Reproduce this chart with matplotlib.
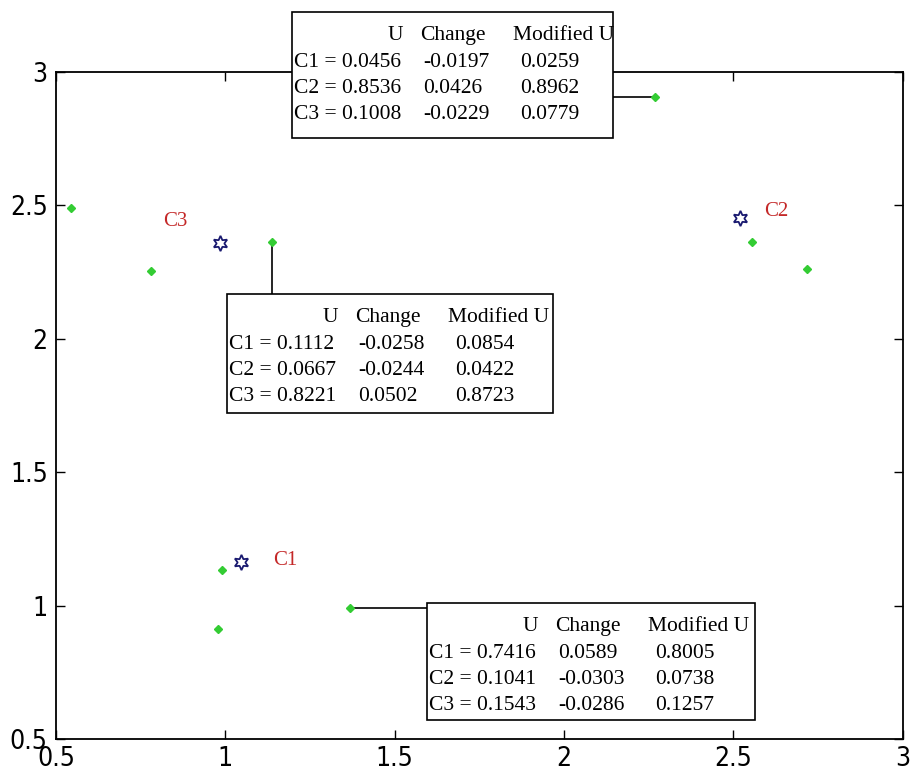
import matplotlib.pyplot as plt
from matplotlib.patches import Rectangle
from matplotlib.transforms import offset_copy

# cluster centres
center_names = ['C1', 'C2', 'C3']
centers_x = [1.046, 2.519, 0.984]
centers_y = [1.163, 2.453, 2.359]

# data points
points_x = [0.545, 0.780, 1.138, 0.990, 0.978, 1.368, 2.270, 2.554, 2.717]
points_y = [2.490, 2.254, 2.363, 1.133, 0.912, 0.991, 2.906, 2.363, 2.262]

# memberships of three of the points: old value, change, new value
u_points = [6, 2, 5]
u_old = [[0.0456, 0.8536, 0.1008],
         [0.1112, 0.0667, 0.8221],
         [0.7416, 0.1041, 0.1543]]
u_change = [[-0.0197, 0.0426, -0.0229],
            [-0.0258, -0.0244, 0.0502],
            [0.0589, -0.0303, -0.0286]]
u_new = [[0.0259, 0.8962, 0.0779],
         [0.0854, 0.0422, 0.8723],
         [0.8005, 0.0738, 0.1257]]

# where the centre names sit relative to their centre
name_dx = [0.130, 0.109, -0.133]
name_dy = [0.007, 0.025, 0.081]

# box corners (x0, x1, y0, y1) in data units and the side the leader line leaves from
boxes = [(1.197, 2.144, 2.753, 3.225),
         (1.005, 1.967, 1.722, 2.168),
         (1.595, 2.563, 0.571, 1.010)]
box_sides = ['right', 'top', 'left']

table_font = ['Liberation Serif', 'DejaVu Serif']

fig = plt.figure(figsize=(9.1, 7.74), dpi=100)
ax = fig.add_axes([0.0615, 0.0452, 0.9305, 0.8618])

ax.plot(points_x, points_y, linestyle='none', marker='D', markersize=4.5,
        color='#33cc33', zorder=3)
ax.plot(centers_x, centers_y, linestyle='none', marker=(6, 1, 0), markersize=11,
        markerfacecolor='none', markeredgecolor='#1a1a70', markeredgewidth=1.3, zorder=3)

for name, cx, cy, dx, dy in zip(center_names, centers_x, centers_y, name_dx, name_dy):
    ax.text(cx + dx, cy + dy, name, color='#c42828', fontsize=15,
            family=table_font, ha='center', va='center')

for k, (x0, x1, y0, y1) in enumerate(boxes):
    px = points_x[u_points[k]]
    py = points_y[u_points[k]]
    side = box_sides[k]
    if side == 'right':
        ax.plot([x1, px], [py, py], color='black', lw=1.2, clip_on=False, zorder=2)
    elif side == 'left':
        ax.plot([px, x0], [py, py], color='black', lw=1.2, clip_on=False, zorder=2)
    else:
        ax.plot([px, px], [py, y1], color='black', lw=1.2, clip_on=False, zorder=2)

    ax.add_patch(Rectangle((x0, y0), x1 - x0, y1 - y0, facecolor='white',
                           edgecolor='black', lw=1.2, clip_on=False, zorder=4))

    def cell(dx, dy, s, ha='left'):
        tr = offset_copy(ax.transData, fig=fig, x=dx, y=-dy, units='dots')
        ax.text(x0, y1, s, transform=tr, ha=ha, va='center', fontsize=15.5,
                family=table_font, clip_on=False, zorder=5)

    cell(111, 24, 'U', ha='right')
    cell(128, 24, 'Change')
    cell(221, 24, 'Modified U')
    for j in range(3):
        dy = 51 + 26 * j
        cell(2, dy, f'{center_names[j]} = {u_old[k][j]:.4f}')
        cell(131, dy, f'{u_change[k][j]:.4f}')
        cell(228, dy, f'{u_new[k][j]:.4f}')

ax.set_xlim(0.5, 3)
ax.set_ylim(0.5, 3)
ax.set_xticks([0.5, 1, 1.5, 2, 2.5, 3])
ax.set_xticklabels(['0.5', '1', '1.5', '2', '2.5', '3'])
ax.set_yticks([0.5, 1, 1.5, 2, 2.5, 3])
ax.set_yticklabels(['0.5', '1', '1.5', '2', '2.5', '3'])
ax.tick_params(direction='in', top=True, right=True, length=6.5, width=1,
               labelsize=19)
ax.tick_params(axis='x', pad=5)
ax.tick_params(axis='y', pad=6)
for lab in ax.get_xticklabels() + ax.get_yticklabels():
    lab.set_family('DejaVu Sans')
    lab.set_stretch('condensed')
for sp in ax.spines.values():
    sp.set_linewidth(1.3)

fig.savefig('out.png', dpi=100)
